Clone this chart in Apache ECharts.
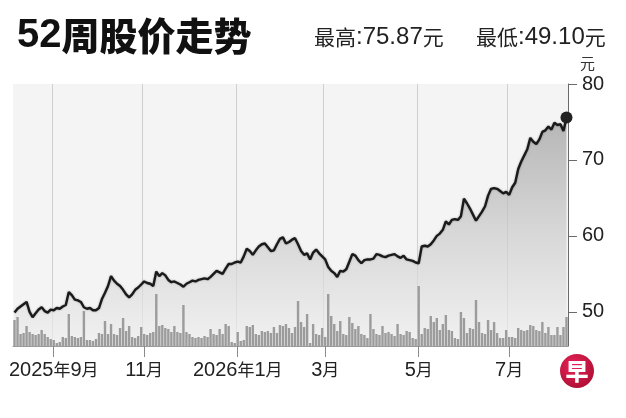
<!DOCTYPE html>
<html><head><meta charset="utf-8">
<script src="https://cdn.jsdelivr.net/npm/echarts@6/dist/echarts.min.js"></script>
<style>html,body{margin:0;padding:0;background:#fff}#c{width:626px;height:418px}</style>
</head><body><div id="c"></div>
<script>
// ---- data ----
const startDate = '2025-08-07';   // first sample
const stepDays = 2;               // one sample every two calendar days
const price = [
  49.9, 50.4, 50.7, 51.0, 51.3, 50.0, 49.3, 49.8, 50.3, 50.6,
  50.1, 49.9, 50.3, 50.2, 50.5, 50.4, 50.7, 50.9, 52.6, 52.2,
  51.6, 51.5, 51.3, 50.6, 50.4, 50.5, 50.2, 50.2, 50.5, 51.7,
  52.5, 53.4, 54.7, 54.1, 53.7, 53.4, 52.9, 52.3, 51.9, 52.3,
  52.9, 53.2, 53.6, 54.0, 53.8, 53.7, 53.4, 55.3, 54.7, 55.1,
  54.8, 54.2, 53.9, 54.0, 53.8, 53.6, 53.3, 53.7, 53.9, 54.1,
  54.0, 54.2, 54.3, 54.4, 54.3, 54.6, 55.0, 55.4, 55.2, 55.0,
  55.7, 56.3, 56.3, 56.5, 56.6, 56.5, 57.3, 58.3, 58.0, 57.5,
  58.1, 58.6, 58.9, 59.0, 58.5, 58.0, 58.1, 58.9, 59.6, 59.8,
  59.0, 59.2, 59.5, 59.7, 58.9, 58.0, 57.5, 57.7, 56.9, 57.8,
  58.2, 57.7, 57.3, 56.9, 55.9, 55.4, 55.1, 54.6, 55.4, 55.3,
  55.6, 56.6, 57.6, 57.4, 56.8, 56.4, 56.8, 56.9, 56.9, 57.0,
  57.6, 57.5, 57.3, 57.2, 57.4, 57.5, 57.6, 57.3, 57.1, 57.4,
  56.9, 56.8, 56.7, 56.5, 56.4, 58.6, 58.7, 58.6, 58.9, 59.4,
  60.0, 60.3, 60.8, 61.9, 61.5, 62.1, 62.2, 62.1, 62.6, 64.9,
  64.3, 63.6, 62.8, 62.0, 62.6, 63.2, 63.9, 65.3, 66.2, 66.3,
  66.2, 65.9, 65.6, 65.8, 65.4, 66.4, 67.0, 68.8, 69.8, 70.6,
  71.4, 72.9, 72.4, 72.1, 72.7, 73.7, 73.9, 74.4, 74.0, 74.9,
  74.6, 74.7, 73.8, 75.6
];
const volume = [
  26, 29, 12, 13, 20, 14, 12, 11, 12, 16,
  12, 9, 7, 6, 3, 4, 9, 8, 32, 10,
  9, 8, 9, 35, 6, 6, 5, 7, 13, 12,
  25, 12, 22, 12, 11, 18, 28, 15, 20, 9,
  8, 10, 19, 12, 11, 13, 14, 52, 20, 21,
  18, 17, 14, 20, 14, 13, 41, 14, 12, 9,
  8, 9, 8, 10, 9, 17, 12, 11, 17, 12,
  22, 20, 4, 3, 14, 5, 6, 20, 19, 21,
  12, 11, 15, 14, 15, 13, 19, 13, 21, 20,
  22, 18, 13, 19, 45, 24, 19, 32, 3, 22,
  12, 11, 18, 9, 52, 30, 22, 15, 25, 12,
  11, 29, 23, 17, 20, 12, 11, 8, 32, 17,
  12, 11, 20, 13, 14, 12, 10, 22, 12, 11,
  15, 14, 8, 7, 60, 12, 18, 17, 30, 24,
  28, 16, 22, 31, 16, 15, 8, 7, 34, 28,
  13, 18, 17, 46, 24, 13, 12, 26, 16, 24,
  13, 8, 8, 16, 9, 9, 8, 18, 16, 15,
  16, 21, 20, 16, 15, 24, 13, 19, 11, 11,
  19, 11, 19, 29
];
const tickMonths = ['2025-09', '2025-11', '2026-01', '2026-03', '2026-05', '2026-07'];
const tickLabels = ['2025年9月', '11月', '2026年1月', '3月', '5月', '7月'];
const yTicks = [50, 60, 70, 80];
const titleText = '52周股价走势';
const highLabel = '最高', highValue = '75.87';
const lowLabel = '最低', lowValue = '49.10';
const unit = '元';

// ---- build categories ----
const t0 = Date.parse(startDate + 'T00:00:00Z');
const dates = price.map((_, i) => new Date(t0 + i * stepDays * 86400000).toISOString().slice(0, 10));
function isMonthTick(index) {
  if (index <= 0) return false;
  const m = dates[index].slice(0, 7);
  return m !== dates[index - 1].slice(0, 7) && tickMonths.indexOf(m) >= 0;
}
const LAT = "'Liberation Sans', Arial, sans-serif";
const CJK = "'Noto Sans CJK SC', sans-serif";
function richify(s) {
  return s.replace(/(\d+)/g, '{d|$1}').replace(/([年月])/g, '{c|$1}');
}
const headRich = {
  c: { fontFamily: CJK, fontSize: 21, fontWeight: 'normal', color: '#222' },
  d: { fontFamily: LAT, fontSize: 24, fontWeight: 'normal', color: '#222' }
};

const chart = echarts.init(document.getElementById('c'), null, { renderer: 'canvas' });
chart.setOption({
  animation: false,
  backgroundColor: '#ffffff',
  title: [
    {
      text: '{n|' + titleText.slice(0, 2) + '}{c|' + titleText.slice(2) + '}',
      left: 12, top: 11,
      textStyle: {
        rich: {
          n: { fontFamily: LAT, fontWeight: 'bold', fontSize: 40, color: '#111' },
          c: { fontFamily: CJK, fontWeight: 900, fontSize: 38, color: '#111' }
        }
      }
    },
    {
      text: '{c|' + highLabel + '}{d|:' + highValue + '}{c|' + unit + '}',
      left: 309, top: 20,
      textStyle: { fontWeight: 'normal', rich: headRich }
    },
    {
      text: '{c|' + lowLabel + '}{d|:' + lowValue + '}{c|' + unit + '}',
      left: 471, top: 20,
      textStyle: { fontWeight: 'normal', rich: headRich }
    }
  ],
  grid: {
    left: 13, right: 58, top: 84, bottom: 72,
    show: true, backgroundColor: '#f4f4f4', borderWidth: 0
  },
  xAxis: {
    type: 'category',
    data: dates,
    boundaryGap: true,
    axisLine: { show: true, lineStyle: { color: '#9a9a9a', width: 1 } },
    axisTick: { show: true, alignWithLabel: true, interval: (i) => isMonthTick(i), length: 11, lineStyle: { color: '#8a8a8a' } },
    splitLine: { show: true, interval: (i) => isMonthTick(i), lineStyle: { color: '#cfcfcf', width: 1 } },
    axisLabel: {
      interval: (i) => isMonthTick(i),
      margin: 14,
      formatter: (v) => richify(tickLabels[tickMonths.indexOf(v.slice(0, 7))]),
      rich: {
        d: { fontFamily: LAT, fontSize: 20, color: '#222' },
        c: { fontFamily: CJK, fontSize: 17, color: '#222' }
      }
    }
  },
  yAxis: [
    {
      type: 'value', position: 'right', min: 45.5, max: 80,
      name: unit, nameLocation: 'end', nameGap: 13,
      nameTextStyle: { fontFamily: CJK, fontSize: 15, color: '#333', align: 'left', padding: [0, 0, 0, 12] },
      axisLine: { show: true, lineStyle: { color: '#6a6a6a', width: 1 } },
      axisTick: { show: true, length: 9, customValues: yTicks, lineStyle: { color: '#6a6a6a' } },
      axisLabel: { customValues: yTicks, margin: 14, fontFamily: LAT, fontSize: 20, color: '#222' },
      splitLine: { show: false }
    },
    {
      type: 'value', min: 0, max: 262, show: false, splitLine: { show: false }
    }
  ],
  series: [
    {
      name: '股价', type: 'line', data: price, xAxisIndex: 0, yAxisIndex: 0,
      showSymbol: false, smooth: false, z: 2,
      lineStyle: { color: '#1a1a1a', width: 2.4, shadowColor: 'rgba(0,0,0,0.35)', shadowBlur: 2 },
      areaStyle: {
        color: new echarts.graphic.LinearGradient(0, 0, 0, 1, [
          { offset: 0, color: '#9b9b9b' },
          { offset: 0.5, color: '#cbcbcb' },
          { offset: 1, color: '#f0f0f0' }
        ])
      },
      markPoint: {
        data: [{ type: 'max' }],
        symbol: 'circle', symbolSize: 12,
        itemStyle: { color: '#222' },
        label: { show: false }
      }
    },
    {
      name: '成交量', type: 'bar', data: volume, xAxisIndex: 0, yAxisIndex: 1,
      barWidth: '80%', z: 3,
      itemStyle: { color: '#9c9c9c' }
    }
  ],
  graphic: [
    {
      type: 'group', left: 560, top: 354,
      children: [
        {
          type: 'circle', shape: { cx: 17, cy: 17, r: 17 },
          style: {
            fill: new echarts.graphic.RadialGradient(0.4, 0.35, 0.8, [
              { offset: 0, color: '#e8245a' },
              { offset: 1, color: '#a50b2e' }
            ])
          }
        },
        {
          type: 'text', x: 17, y: 17,
          style: { text: '早', fill: '#ffffff', font: '900 23px "Noto Sans CJK SC"', align: 'center', verticalAlign: 'middle' }
        }
      ]
    }
  ]
});
</script></body></html>
